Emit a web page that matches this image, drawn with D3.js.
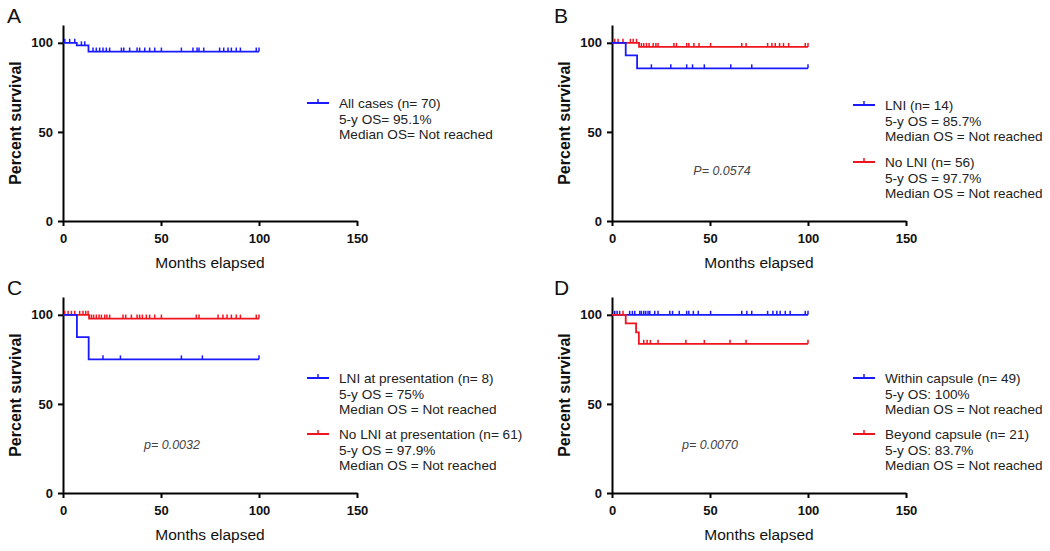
<!DOCTYPE html>
<html><head><meta charset="utf-8">
<script src="https://cdn.jsdelivr.net/npm/d3@7"></script>
<style>
body{margin:0;background:#fff;}
svg{display:block;font-family:"Liberation Sans",Arial,sans-serif;}
</style></head>
<body><svg id="c" width="1050" height="551"></svg>
<script>
const monthTicks = [0, 50, 100, 150];
const pctTicks = [0, 50, 100];
const panelLetters = ["A", "B", "C", "D"];

// Panel A: all cases
const allSteps = [[0,100],[7,98.6],[13,95.1],[100,95.1]];
const allCensor = [0.9,3.4,6,9.4,11.1,15.3,17,18.7,20.4,22.1,23.8,29.8,31,34,37.8,39.1,41.7,44.2,46.8,50.2,60.4,66.3,68.4,69.4,71.8,79.9,82,84.2,85.9,88.4,90.5,98.6,100];

// Panel B: LNI vs no LNI
const lniSteps = [[0,100],[7,92.9],[12.8,85.7],[100,85.7]];
const lniCensor = [20.1,30,38.1,41.1,47.1,60.6,71.3,100];
const noLniSteps = [[0,100],[13.8,97.7],[100,97.7]];
const noLniCensor = [1.4,3.1,5.6,9.4,10.8,12.5,15,16.2,17.6,18.9,21,22.4,23.5,31.6,32.9,38.1,39.2,41.8,44.4,50.3,66.2,68.4,79.4,81.6,83.3,85.5,87.5,90.1,98.6,100];

// Panel C: LNI at presentation
const lniPresSteps = [[0,100],[7.1,87.5],[13.1,75],[100,75]];
const lniPresCensor = [20.4,29.3,60.4,71.1,100];
const noLniPresSteps = [[0,100],[13.3,97.9],[100,97.9]];
const noLniPresCensor = [0.9,2.6,4.3,6,8.5,10.2,11.6,12.8,14.5,15.6,17,18.4,19.6,21.3,22.4,23.8,30.6,32,34.9,37.8,39.1,40.5,42.5,44.2,46.8,50.2,68,69.4,79.1,81.6,83.7,85.9,88.4,90.5,98.6,100];

// Panel D: capsule
const withinSteps = [[0,100],[100,100]];
const withinCensor = [1.4,2.6,3.9,9,10.4,11.6,14.2,15,16.2,17.2,18.4,19.3,21.8,23.5,29.5,30.9,34.3,38.1,39.2,41.5,44,50.3,66.2,68.8,71.3,79.4,82.1,84.1,85.8,88.4,90.9,98.6,100];
const beyondSteps = [[0,100],[7,95.2],[12.3,90.2],[13.7,83.7],[100,83.7]];
const beyondCensor = [5.6,16.2,17.9,19.6,23.5,37.7,47.1,60.2,68.4,100];

const BLUE = "#1a1aff", RED = "#f0141e";

const panels = [
  {ox:0, oy:0, letter:"A", series:[{steps:allSteps, censor:allCensor, color:BLUE}],
   legend:[{color:BLUE, y:103, lines:["All cases (n= 70)","5-y OS= 95.1%","Median OS= Not reached"]}],
   lx:307, p:null},
  {ox:549, oy:0, letter:"B", series:[{steps:noLniSteps, censor:noLniCensor, color:RED},{steps:lniSteps, censor:lniCensor, color:BLUE}],
   legend:[{color:BLUE, y:105, lines:["LNI (n= 14)","5-y OS = 85.7%","Median OS = Not reached"]},
           {color:RED, y:162, lines:["No LNI (n= 56)","5-y OS = 97.7%","Median OS = Not reached"]}],
   lx:853, p:{text:"P= 0.0574", x:722, y:175}},
  {ox:0, oy:272, letter:"C", series:[{steps:noLniPresSteps, censor:noLniPresCensor, color:RED},{steps:lniPresSteps, censor:lniPresCensor, color:BLUE}],
   legend:[{color:BLUE, y:378, lines:["LNI at presentation (n= 8)","5-y OS = 75%","Median OS = Not reached"]},
           {color:RED, y:434, lines:["No LNI at presentation (n= 61)","5-y OS = 97.9%","Median OS = Not reached"]}],
   lx:307, p:{text:"p= 0.0032", x:172, y:449}},
  {ox:549, oy:272, letter:"D", series:[{steps:withinSteps, censor:withinCensor, color:BLUE},{steps:beyondSteps, censor:beyondCensor, color:RED}],
   legend:[{color:BLUE, y:378, lines:["Within capsule (n= 49)","5-y OS: 100%","Median OS = Not reached"]},
           {color:RED, y:434, lines:["Beyond capsule (n= 21)","5-y OS: 83.7%","Median OS = Not reached"]}],
   lx:853, p:{text:"p= 0.0070", x:710, y:449}}
];

const svg = d3.select("#c");

function survAt(steps, t){
  let s = steps[0][1];
  for(const [tt, v] of steps){ if (tt <= t) s = v; }
  return s;
}

panels.forEach(P => {
  const g = svg.append("g");
  const x = d3.scaleLinear().domain([0,150]).range([P.ox+63, P.ox+357]);
  const y = d3.scaleLinear().domain([0,110]).range([P.oy+221, P.oy+25]);

  // letter
  g.append("text").attr("x", P.ox === 0 ? 7 : P.ox+5).attr("y", P.oy+23)
    .attr("font-size", 21).attr("fill", "#111").text(P.letter);

  // axes
  const ya = g.append("g").attr("transform", `translate(${x(0)},0)`)
    .call(d3.axisLeft(y).tickValues(pctTicks).tickSize(5).tickSizeOuter(0).tickPadding(5));
  const xa = g.append("g").attr("transform", `translate(0,${y(0)})`)
    .call(d3.axisBottom(x).tickValues(monthTicks).tickSize(5).tickSizeOuter(0).tickPadding(8));
  [ya, xa].forEach(a => {
    a.select(".domain").attr("stroke", "#000").attr("stroke-width", 2);
    a.selectAll(".tick line").attr("stroke", "#000").attr("stroke-width", 2);
    a.selectAll(".tick text").attr("font-size", 13).attr("font-weight", "bold")
      .attr("fill", "#111").attr("font-family", "'Liberation Sans',Arial,sans-serif");
  });

  // axis titles
  g.append("text").attr("transform", `translate(${P.ox+21},${y(55)}) rotate(-90)`)
    .attr("text-anchor", "middle").attr("font-size", 16).attr("font-weight", "bold")
    .attr("fill", "#111").text("Percent survival");
  g.append("text").attr("x", x(75)).attr("y", P.oy+268)
    .attr("text-anchor", "middle").attr("font-size", 15.5).attr("fill", "#111").text("Months elapsed");

  // curves
  const line = d3.line().x(d => x(d[0])).y(d => y(d[1])).curve(d3.curveStepAfter);
  P.series.forEach(S => {
    g.append("path").datum(S.steps).attr("d", line).attr("fill", "none")
      .attr("stroke", S.color).attr("stroke-width", 1.8);
    g.selectAll(null).data(S.censor).enter().append("line")
      .attr("x1", d => x(d)).attr("x2", d => x(d))
      .attr("y1", d => y(survAt(S.steps, d))).attr("y2", d => y(survAt(S.steps, d)) - 4)
      .attr("stroke", S.color).attr("stroke-width", 1.5);
  });

  // legend
  P.legend.forEach(L => {
    g.append("line").attr("x1", P.lx).attr("x2", P.lx+22).attr("y1", L.y).attr("y2", L.y)
      .attr("stroke", L.color).attr("stroke-width", 2);
    g.append("line").attr("x1", P.lx+11).attr("x2", P.lx+11).attr("y1", L.y).attr("y2", L.y-4)
      .attr("stroke", L.color).attr("stroke-width", 1.5);
    L.lines.forEach((t, i) => {
      g.append("text").attr("x", P.lx+32).attr("y", L.y + 5 + i*15.5)
        .attr("font-size", 13.6).attr("fill", "#222").text(t);
    });
  });

  if (P.p) {
    g.append("text").attr("x", P.p.x).attr("y", P.p.y).attr("text-anchor", "middle")
      .attr("font-size", 12.5).attr("font-style", "italic").attr("fill", "#444").text(P.p.text);
  }
});
</script></body></html>
